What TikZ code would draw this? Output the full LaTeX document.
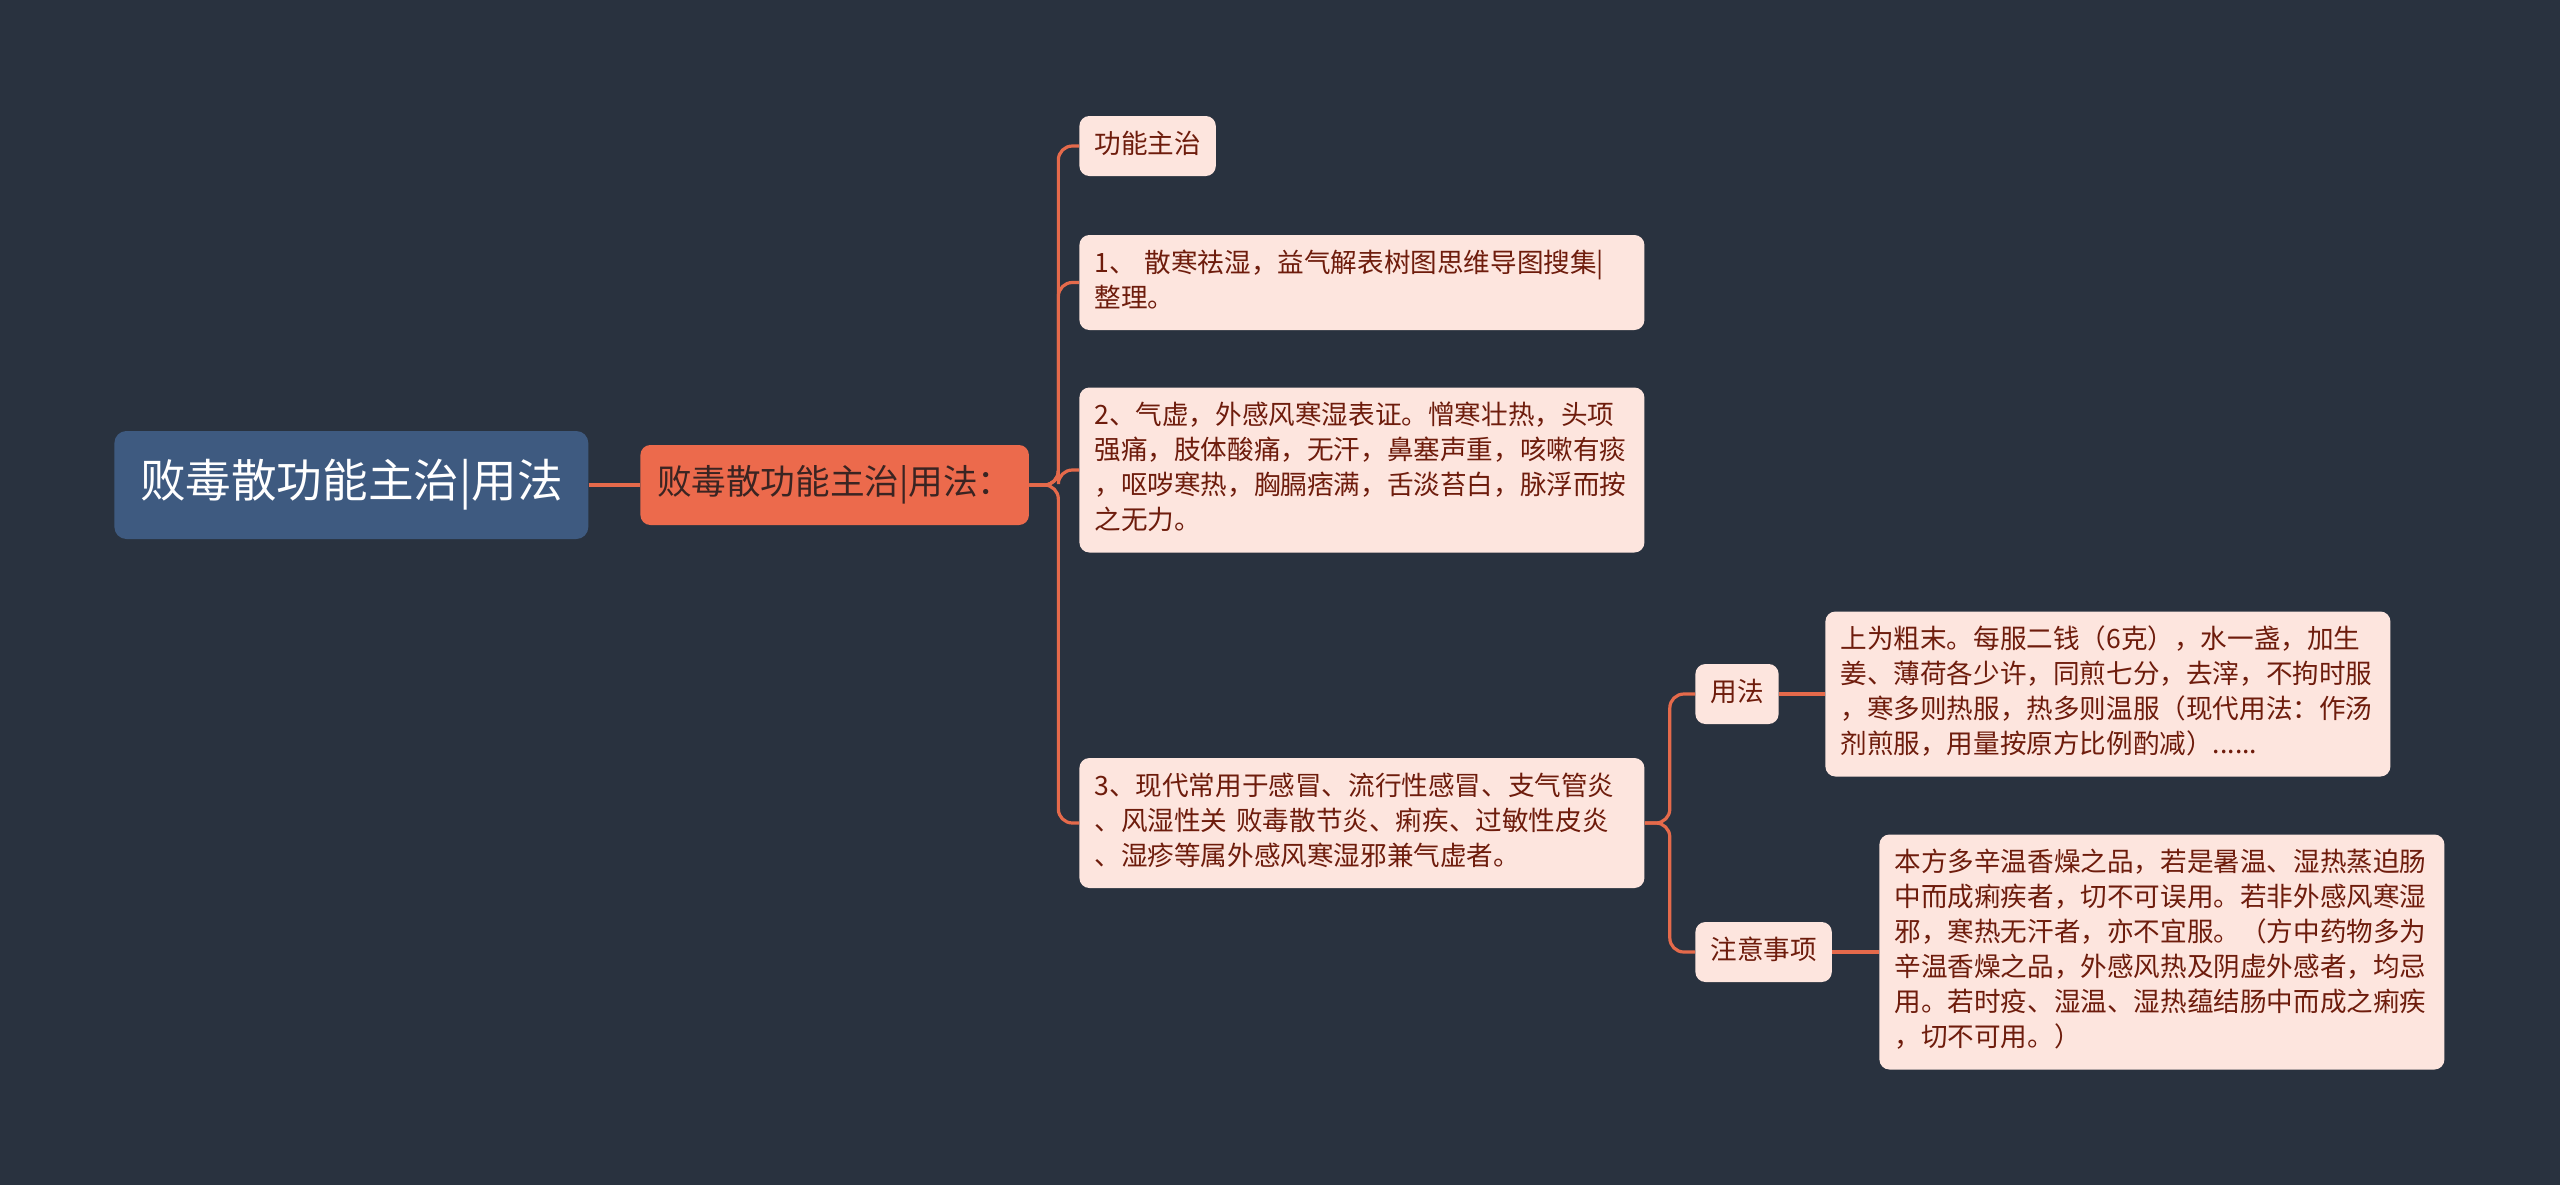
\documentclass[tikz,border=0pt]{standalone}
\usepackage{fontspec}
\newfontfamily\cjk{Noto Sans CJK SC}
\definecolor{bgnavy}{HTML}{29323F}
\definecolor{rootblue}{HTML}{3E5A80}
\definecolor{mainorange}{HTML}{EC6A4C}
\definecolor{maintext}{HTML}{3A2422}
\definecolor{leafpink}{HTML}{FDE5DE}
\definecolor{leafred}{HTML}{6E1C0C}
\definecolor{linkorange}{HTML}{E56A4B}
\tikzset{leaf/.style={fill=leafpink,rounded corners=5pt,text=leafred,
    font={\cjk\fontsize{13.3pt}{17.5pt}\selectfont},inner xsep=7.5pt,inner ysep=6.25pt,
    align=left,execute at begin node=\strut,execute at end node=\strut},
  wideleaf/.style={leaf,text width=267.5pt}}

\begin{document}
\begin{tikzpicture}[x=1pt,y=-1pt,
    rootbox/.style={fill=rootblue,rounded corners=6pt,text=white,
        font={\cjk\fontsize{22.8pt}{27pt}\selectfont},inner xsep=12.8pt,minimum height=54pt},
    mainbox/.style={fill=mainorange,rounded corners=5pt,text=maintext,
        font={\cjk\fontsize{17.3pt}{21pt}\selectfont},inner xsep=8.3pt,minimum height=40pt},
    link/.style={draw=linkorange,line width=1.6pt,rounded corners=7pt}]
    \fill[bgnavy] (0,0) rectangle (1280,592.5);
    \node [rootbox,anchor=west] (root) at (57,242.5) {败毒散功能主治|用法};
    \node [mainbox,anchor=west] (main) at (320,242.5) {败毒散功能主治|用法：};
    \node [leaf,anchor=west] (gn) at (539.5,73) {功能主治};
    \node [wideleaf,anchor=west] (one) at (539.5,141.25)
        {1、 散寒祛湿，益气解表树图思维导图搜集|\\整理。};
    \node [wideleaf,anchor=west] (two) at (539.5,235)
        {2、气虚，外感风寒湿表证。憎寒壮热，头项\\强痛，肢体酸痛，无汗，鼻塞声重，咳嗽有痰\\，呕哕寒热，胸膈痞满，舌淡苔白，脉浮而按\\之无力。};
    \node [wideleaf,anchor=west] (three) at (539.5,411.5)
        {3、现代常用于感冒、流行性感冒、支气管炎\\、风湿性关 败毒散节炎、痢疾、过敏性皮炎\\、湿疹等属外感风寒湿邪兼气虚者。};
    \node [leaf,anchor=west] (yf) at (847.5,347) {用法};
    \node [wideleaf,anchor=west] (yftext) at (912.5,347)
        {上为粗末。每服二钱（6克），水一盏，加生\\姜、薄荷各少许，同煎七分，去滓，不拘时服\\，寒多则热服，热多则温服（现代用法：作汤\\剂煎服，用量按原方比例酌减）......};
    \node [leaf,anchor=west] (zy) at (847.5,476) {注意事项};
    \node [wideleaf,anchor=west] (zytext) at (939.5,476)
        {本方多辛温香燥之品，若是暑温、湿热蒸迫肠\\中而成痢疾者，切不可误用。若非外感风寒湿\\邪，寒热无汗者，亦不宜服。（方中药物多为\\辛温香燥之品，外感风热及阴虚外感者，均忌\\用。若时疫、湿温、湿热蕴结肠中而成之痢疾\\，切不可用。）};
    % connectors
    \draw [link] (root.east) -- (main.west);
    \foreach \n in {gn,one,two,three}
        \draw [link] (main.east) -- ++(14.5,0) |- (\n.west);
    \foreach \n in {yf,zy}
        \draw [link] (three.east) -- ++(12.5,0) |- (\n.west);
    \draw [link] (yf.east) -- (yftext.west);
    \draw [link] (zy.east) -- (zytext.west);
\end{tikzpicture}
\end{document}
